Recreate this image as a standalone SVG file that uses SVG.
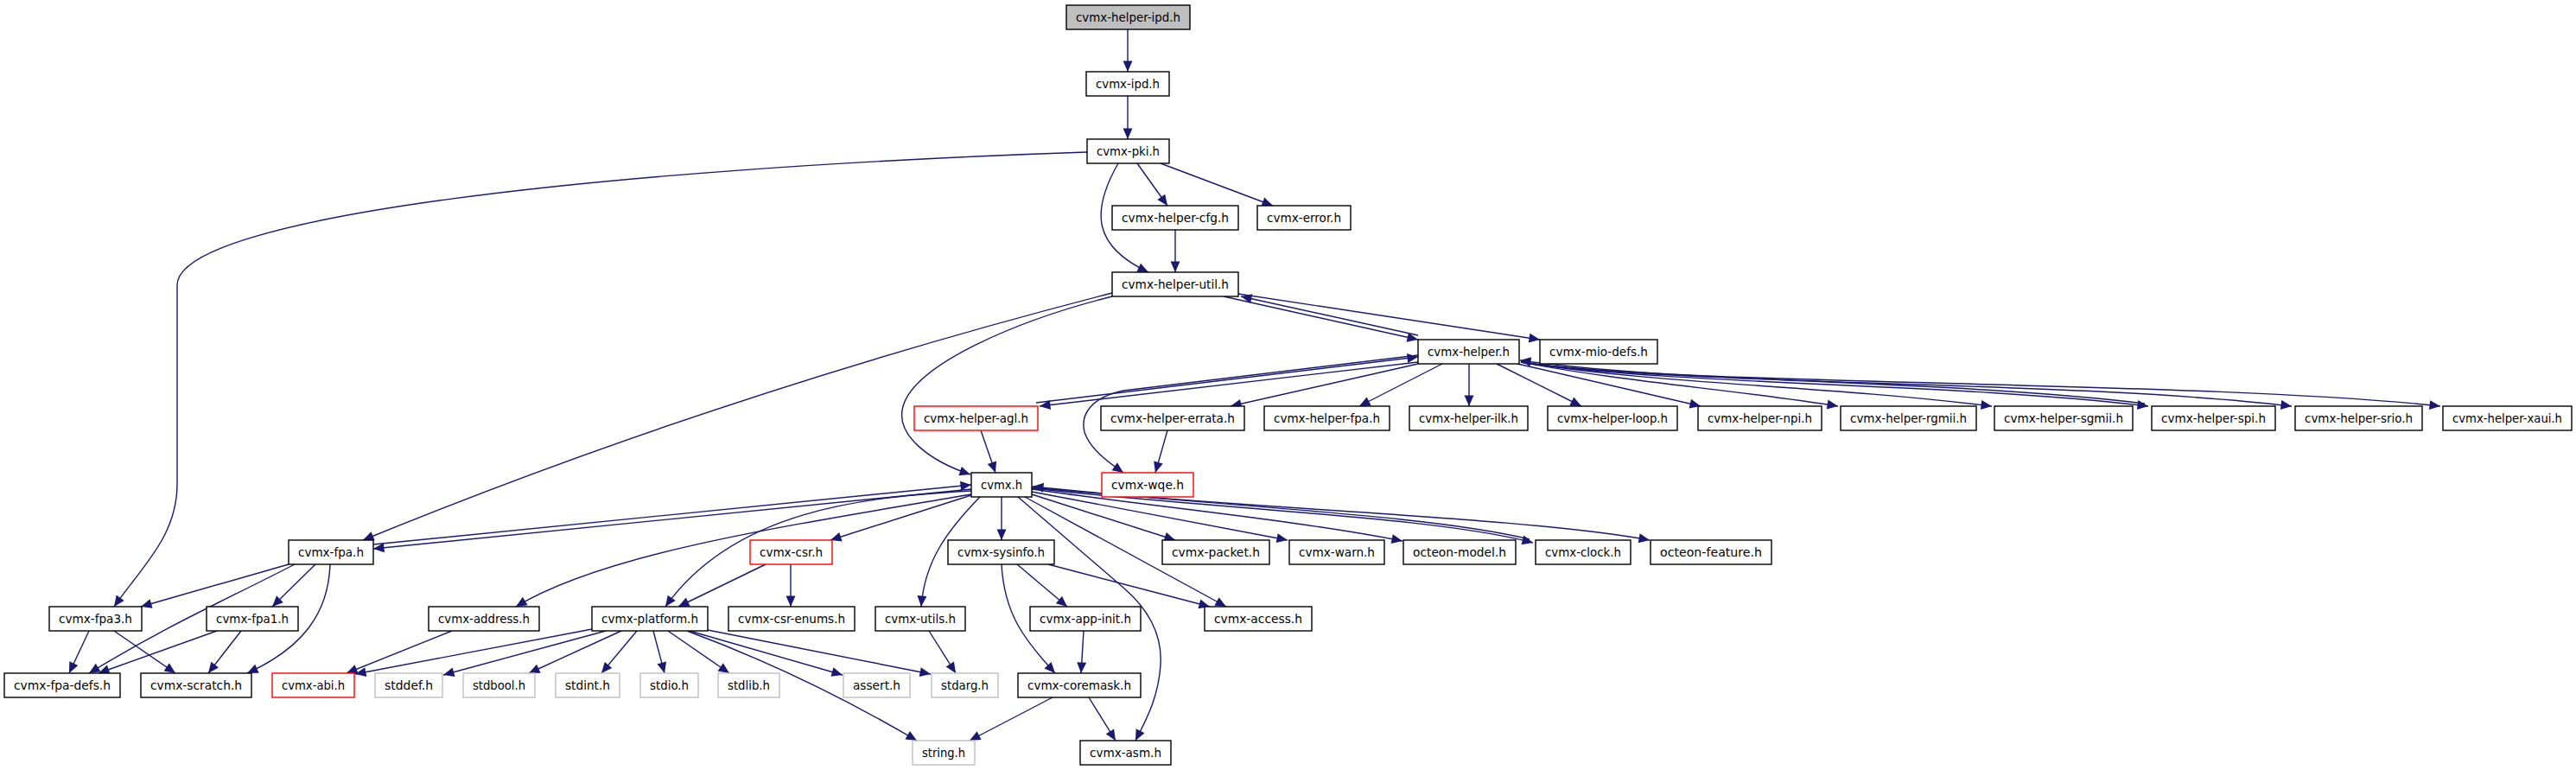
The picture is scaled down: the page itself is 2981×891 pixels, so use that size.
<svg xmlns="http://www.w3.org/2000/svg" width="2981" height="891" viewBox="0 0 2981 891">
<style>
.node rect{fill:#fff;stroke:#000;stroke-width:1.4}
.node.root rect{fill:#bfbfbf}
.node.red rect{stroke:#ff0000}
.node.sys rect{stroke:#bfbfbf}
.node text{font-family:"DejaVu Sans Condensed","DejaVu Sans",sans-serif;font-stretch:condensed;font-size:14.5px;fill:#000;text-anchor:middle}
#edges path{fill:none;stroke:#191970;stroke-width:1.4;marker-end:url(#a)}
</style>
<defs>
<marker id="a" markerUnits="userSpaceOnUse" markerWidth="13" markerHeight="12" viewBox="0 0 13 12" refX="12.5" refY="6" orient="auto" overflow="visible">
<path d="M0,0.5L12.5,6L0,11.5z" fill="#191970"/>
</marker>
</defs>
<rect width="2981" height="891" fill="#fff"/>
<g id="edges">
<path d="M1305,34 L1305,83"/>
<path d="M1305,111 L1305,161"/>
<path d="M1258,176 C700,195 205,250 205,330 L205,560 C205,620 165,655 132,702"/>
<path d="M1316,189 L1351,238"/>
<path d="M1343,189 L1473,238"/>
<path d="M1294,189 C1262,245 1265,285 1329,315"/>
<path d="M1360,266 L1360,315"/>
<path d="M1287,339 C1050,400 750,490 420,625"/>
<path d="M1287,343 C1180,370 1060,420 1045,470 C1035,505 1080,535 1123,549"/>
<path d="M1416,343 L1641,393"/>
<path d="M1641,388 L1436,343"/>
<path d="M1433,340 L1782,393"/>
<path d="M1641,419 L1203,470"/>
<path d="M1199,466 L1641,413"/>
<path d="M1641,421 L1424,470"/>
<path d="M1669,421 L1573,470"/>
<path d="M1700,421 L1700,470"/>
<path d="M1732,421 L1830,470"/>
<path d="M1756,421 L1968,470"/>
<path d="M1760,419 C1880,442 2000,450 2127,470"/>
<path d="M1760,419 C1920,445 2100,445 2305,470"/>
<path d="M1760,419 C1950,447 2250,442 2486,470"/>
<path d="M2482,467 C2250,439 1950,444 1759,417"/>
<path d="M1760,419 C1950,447 2400,440 2652,470"/>
<path d="M1760,419 C1950,447 2550,440 2824,470"/>
<path d="M1641,411 L1300,452 C1262,460 1250,480 1255,500 C1262,522 1290,540 1300,547"/>
<path d="M1135,498 L1152,547"/>
<path d="M1351,498 L1337,547"/>
<path d="M432,630 L1124,561"/>
<path d="M1124,566 L432,635"/>
<path d="M1124,572 C900,610 700,640 597,702"/>
<path d="M1124,568 C1000,575 850,590 770,702"/>
<path d="M1124,573 L961,625"/>
<path d="M1134,575 C1095,615 1070,650 1066,702"/>
<path d="M1159,575 L1159,625"/>
<path d="M1178,575 L1300,680 C1335,710 1345,740 1343,770 C1340,810 1325,835 1314,857"/>
<path d="M1194,572 L1360,625"/>
<path d="M1194,569 L1490,625"/>
<path d="M1194,566 C1350,588 1500,602 1623,626"/>
<path d="M1194,565 C1420,590 1660,598 1774,628"/>
<path d="M1770,624 C1650,595 1420,587 1195,563"/>
<path d="M1194,564 C1460,590 1760,598 1909,625"/>
<path d="M1186,575 L1419,702"/>
<path d="M886,653 L785,702"/>
<path d="M915,653 L915,702"/>
<path d="M1177,653 L1235,702"/>
<path d="M1213,653 L1400,702"/>
<path d="M1159,653 C1162,710 1185,740 1221,779"/>
<path d="M1254,730 L1251,779"/>
<path d="M1075,730 L1106,779"/>
<path d="M334,653 L163,702"/>
<path d="M341,653 C260,695 200,720 103,779"/>
<path d="M365,653 L315,702"/>
<path d="M382,653 C380,710 350,750 286,779"/>
<path d="M103,730 L80,779"/>
<path d="M132,730 L203,779"/>
<path d="M251,730 L114,779"/>
<path d="M279,730 L241,779"/>
<path d="M523,730 L401,779"/>
<path d="M685,728 L411,780"/>
<path d="M701,730 L513,781"/>
<path d="M719,730 L612,779"/>
<path d="M737,730 L696,779"/>
<path d="M756,730 L769,779"/>
<path d="M773,730 L844,779"/>
<path d="M798,730 L975,781"/>
<path d="M819,729 L1077,780"/>
<path d="M795,730 Q930,780 1061,857"/>
<path d="M1218,807 L1122,857"/>
<path d="M1260,807 L1291,857"/>
</g>
<g id="n_ipdh" class="node root"><rect x="1234" y="6" width="143" height="28"/><text x="1305.5" y="25" textLength="121" lengthAdjust="spacingAndGlyphs">cvmx-helper-ipd.h</text></g>
<g id="n_ipd" class="node"><rect x="1257" y="83" width="96" height="28"/><text x="1305" y="102" textLength="74" lengthAdjust="spacingAndGlyphs">cvmx-ipd.h</text></g>
<g id="n_pki" class="node"><rect x="1258" y="161" width="95" height="28"/><text x="1305.5" y="180" textLength="73" lengthAdjust="spacingAndGlyphs">cvmx-pki.h</text></g>
<g id="n_cfg" class="node"><rect x="1287" y="238" width="146" height="28"/><text x="1360" y="257" textLength="124" lengthAdjust="spacingAndGlyphs">cvmx-helper-cfg.h</text></g>
<g id="n_err" class="node"><rect x="1455" y="238" width="108" height="28"/><text x="1509" y="257" textLength="86" lengthAdjust="spacingAndGlyphs">cvmx-error.h</text></g>
<g id="n_util" class="node"><rect x="1287" y="315" width="146" height="28"/><text x="1360" y="334" textLength="124" lengthAdjust="spacingAndGlyphs">cvmx-helper-util.h</text></g>
<g id="n_helper" class="node"><rect x="1641" y="393" width="117" height="28"/><text x="1699.5" y="412" textLength="95" lengthAdjust="spacingAndGlyphs">cvmx-helper.h</text></g>
<g id="n_mio" class="node"><rect x="1782" y="393" width="136" height="28"/><text x="1850" y="412" textLength="114" lengthAdjust="spacingAndGlyphs">cvmx-mio-defs.h</text></g>
<g id="n_agl" class="node red"><rect x="1058" y="470" width="143" height="28"/><text x="1129.5" y="489" textLength="121" lengthAdjust="spacingAndGlyphs">cvmx-helper-agl.h</text></g>
<g id="n_errata" class="node"><rect x="1274" y="470" width="166" height="28"/><text x="1357" y="489" textLength="144" lengthAdjust="spacingAndGlyphs">cvmx-helper-errata.h</text></g>
<g id="n_hfpa" class="node"><rect x="1463" y="470" width="145" height="28"/><text x="1535.5" y="489" textLength="123" lengthAdjust="spacingAndGlyphs">cvmx-helper-fpa.h</text></g>
<g id="n_ilk" class="node"><rect x="1631" y="470" width="137" height="28"/><text x="1699.5" y="489" textLength="115" lengthAdjust="spacingAndGlyphs">cvmx-helper-ilk.h</text></g>
<g id="n_loop" class="node"><rect x="1791" y="470" width="150" height="28"/><text x="1866" y="489" textLength="128" lengthAdjust="spacingAndGlyphs">cvmx-helper-loop.h</text></g>
<g id="n_npi" class="node"><rect x="1965" y="470" width="143" height="28"/><text x="2036.5" y="489" textLength="121" lengthAdjust="spacingAndGlyphs">cvmx-helper-npi.h</text></g>
<g id="n_rgmii" class="node"><rect x="2130" y="470" width="157" height="28"/><text x="2208.5" y="489" textLength="135" lengthAdjust="spacingAndGlyphs">cvmx-helper-rgmii.h</text></g>
<g id="n_sgmii" class="node"><rect x="2308" y="470" width="160" height="28"/><text x="2388" y="489" textLength="138" lengthAdjust="spacingAndGlyphs">cvmx-helper-sgmii.h</text></g>
<g id="n_spi" class="node"><rect x="2490" y="470" width="143" height="28"/><text x="2561.5" y="489" textLength="121" lengthAdjust="spacingAndGlyphs">cvmx-helper-spi.h</text></g>
<g id="n_srio" class="node"><rect x="2656" y="470" width="147" height="28"/><text x="2729.5" y="489" textLength="125" lengthAdjust="spacingAndGlyphs">cvmx-helper-srio.h</text></g>
<g id="n_xaui" class="node"><rect x="2827" y="470" width="149" height="28"/><text x="2901.5" y="489" textLength="127" lengthAdjust="spacingAndGlyphs">cvmx-helper-xaui.h</text></g>
<g id="n_cvmx" class="node"><rect x="1124" y="547" width="70" height="28"/><text x="1159" y="566" textLength="48" lengthAdjust="spacingAndGlyphs">cvmx.h</text></g>
<g id="n_wqe" class="node red"><rect x="1275" y="547" width="106" height="28"/><text x="1328" y="566" textLength="84" lengthAdjust="spacingAndGlyphs">cvmx-wqe.h</text></g>
<g id="n_fpa" class="node"><rect x="334" y="625" width="98" height="28"/><text x="383" y="644" textLength="76" lengthAdjust="spacingAndGlyphs">cvmx-fpa.h</text></g>
<g id="n_csr" class="node red"><rect x="868" y="625" width="95" height="28"/><text x="915.5" y="644" textLength="73" lengthAdjust="spacingAndGlyphs">cvmx-csr.h</text></g>
<g id="n_sysinfo" class="node"><rect x="1097" y="625" width="123" height="28"/><text x="1158.5" y="644" textLength="101" lengthAdjust="spacingAndGlyphs">cvmx-sysinfo.h</text></g>
<g id="n_packet" class="node"><rect x="1345" y="625" width="124" height="28"/><text x="1407" y="644" textLength="102" lengthAdjust="spacingAndGlyphs">cvmx-packet.h</text></g>
<g id="n_warn" class="node"><rect x="1492" y="625" width="110" height="28"/><text x="1547" y="644" textLength="88" lengthAdjust="spacingAndGlyphs">cvmx-warn.h</text></g>
<g id="n_model" class="node"><rect x="1624" y="625" width="130" height="28"/><text x="1689" y="644" textLength="108" lengthAdjust="spacingAndGlyphs">octeon-model.h</text></g>
<g id="n_clock" class="node"><rect x="1777" y="625" width="110" height="28"/><text x="1832" y="644" textLength="88" lengthAdjust="spacingAndGlyphs">cvmx-clock.h</text></g>
<g id="n_feature" class="node"><rect x="1910" y="625" width="140" height="28"/><text x="1980" y="644" textLength="118" lengthAdjust="spacingAndGlyphs">octeon-feature.h</text></g>
<g id="n_fpa3" class="node"><rect x="57" y="702" width="107" height="28"/><text x="110.5" y="721" textLength="85" lengthAdjust="spacingAndGlyphs">cvmx-fpa3.h</text></g>
<g id="n_fpa1" class="node"><rect x="239" y="702" width="106" height="28"/><text x="292" y="721" textLength="84" lengthAdjust="spacingAndGlyphs">cvmx-fpa1.h</text></g>
<g id="n_address" class="node"><rect x="496" y="702" width="128" height="28"/><text x="560" y="721" textLength="106" lengthAdjust="spacingAndGlyphs">cvmx-address.h</text></g>
<g id="n_platform" class="node"><rect x="685" y="702" width="134" height="28"/><text x="752" y="721" textLength="112" lengthAdjust="spacingAndGlyphs">cvmx-platform.h</text></g>
<g id="n_csrenums" class="node"><rect x="843" y="702" width="146" height="28"/><text x="916" y="721" textLength="124" lengthAdjust="spacingAndGlyphs">cvmx-csr-enums.h</text></g>
<g id="n_utils" class="node"><rect x="1013" y="702" width="104" height="28"/><text x="1065" y="721" textLength="82" lengthAdjust="spacingAndGlyphs">cvmx-utils.h</text></g>
<g id="n_appinit" class="node"><rect x="1192" y="702" width="128" height="28"/><text x="1256" y="721" textLength="106" lengthAdjust="spacingAndGlyphs">cvmx-app-init.h</text></g>
<g id="n_access" class="node"><rect x="1394" y="702" width="124" height="28"/><text x="1456" y="721" textLength="102" lengthAdjust="spacingAndGlyphs">cvmx-access.h</text></g>
<g id="n_fpadefs" class="node"><rect x="5" y="779" width="134" height="28"/><text x="72" y="798" textLength="112" lengthAdjust="spacingAndGlyphs">cvmx-fpa-defs.h</text></g>
<g id="n_scratch" class="node"><rect x="163" y="779" width="128" height="28"/><text x="227" y="798" textLength="106" lengthAdjust="spacingAndGlyphs">cvmx-scratch.h</text></g>
<g id="n_abi" class="node red"><rect x="315" y="779" width="95" height="28"/><text x="362.5" y="798" textLength="73" lengthAdjust="spacingAndGlyphs">cvmx-abi.h</text></g>
<g id="n_stddef" class="node sys"><rect x="434" y="779" width="78" height="28"/><text x="473" y="798" textLength="56" lengthAdjust="spacingAndGlyphs">stddef.h</text></g>
<g id="n_stdbool" class="node sys"><rect x="536" y="779" width="83" height="28"/><text x="577.5" y="798" textLength="61" lengthAdjust="spacingAndGlyphs">stdbool.h</text></g>
<g id="n_stdint" class="node sys"><rect x="643" y="779" width="74" height="28"/><text x="680" y="798" textLength="52" lengthAdjust="spacingAndGlyphs">stdint.h</text></g>
<g id="n_stdio" class="node sys"><rect x="741" y="779" width="67" height="28"/><text x="774.5" y="798" textLength="45" lengthAdjust="spacingAndGlyphs">stdio.h</text></g>
<g id="n_stdlib" class="node sys"><rect x="831" y="779" width="71" height="28"/><text x="866.5" y="798" textLength="49" lengthAdjust="spacingAndGlyphs">stdlib.h</text></g>
<g id="n_assert" class="node sys"><rect x="976" y="779" width="77" height="28"/><text x="1014.5" y="798" textLength="55" lengthAdjust="spacingAndGlyphs">assert.h</text></g>
<g id="n_stdarg" class="node sys"><rect x="1078" y="779" width="77" height="28"/><text x="1116.5" y="798" textLength="55" lengthAdjust="spacingAndGlyphs">stdarg.h</text></g>
<g id="n_coremask" class="node"><rect x="1178" y="779" width="142" height="28"/><text x="1249" y="798" textLength="120" lengthAdjust="spacingAndGlyphs">cvmx-coremask.h</text></g>
<g id="n_string" class="node sys"><rect x="1056" y="857" width="72" height="28"/><text x="1092" y="876" textLength="50" lengthAdjust="spacingAndGlyphs">string.h</text></g>
<g id="n_asm" class="node"><rect x="1250" y="857" width="105" height="28"/><text x="1302.5" y="876" textLength="83" lengthAdjust="spacingAndGlyphs">cvmx-asm.h</text></g>
</svg>
